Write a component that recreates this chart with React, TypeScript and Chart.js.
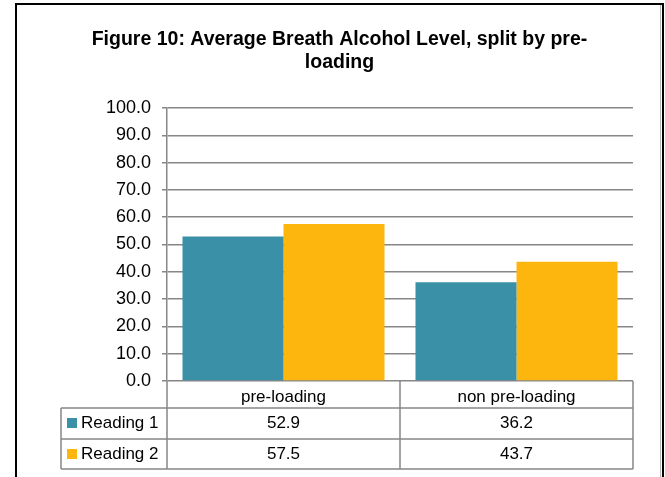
import { useEffect, useRef } from 'react';
import { Chart, registerables } from 'chart.js';

Chart.register(...registerables);

const titleLines = ['Figure 10: Average Breath Alcohol Level, split by pre-', 'loading'];
const categories = ['pre-loading', 'non pre-loading'];
const seriesNames = ['Reading 1', 'Reading 2'];
const reading1 = [52.9, 36.2];
const reading2 = [57.5, 43.7];
const seriesColors = ['#3A90A7', '#FDB60E'];
const yMin = 0;
const yMax = 100;
const yStep = 10;

const FONT = '"Liberation Sans", Arial, sans-serif';
const GRID = '#878787';

const framePlugin = {
  id: 'frameTable',
  beforeDraw(chart: any) {
    const ctx = chart.ctx;
    ctx.save();
    ctx.fillStyle = '#ffffff';
    ctx.fillRect(0, 0, chart.width, chart.height);
    ctx.restore();
  },
  afterDraw(chart: any) {
    const ctx = chart.ctx;
    const area = chart.chartArea;
    const xs = chart.scales.x;
    ctx.save();

    // outer frame
    ctx.fillStyle = '#000000';
    ctx.fillRect(15, 3, 649, 2);
    ctx.fillRect(15, 3, 2, chart.height);
    ctx.fillRect(662, 3, 2, chart.height);
    ctx.fillStyle = '#b5b5b5';
    ctx.fillRect(660, 5, 1, chart.height);

    // title
    ctx.fillStyle = '#000000';
    ctx.font = `bold 19.5px ${FONT}`;
    ctx.textAlign = 'center';
    ctx.textBaseline = 'alphabetic';
    titleLines.forEach((line, i) => ctx.fillText(line, 339.5, 45 + i * 23));

    // data table
    const n = categories.length;
    const centers = categories.map((_, i) => xs.getPixelForValue(i));
    const bounds: number[] = [area.left];
    for (let i = 1; i < n; i++) bounds.push((centers[i - 1] + centers[i]) / 2);
    bounds.push(area.right);

    const tableLeft = 61;
    const headerTop = area.bottom;
    const rowTops = [headerTop + 27, headerTop + 58];
    const tableBottom = headerTop + 88;

    ctx.strokeStyle = GRID;
    ctx.lineWidth = 1.5;
    ctx.beginPath();
    rowTops.concat([tableBottom]).forEach((y) => {
      ctx.moveTo(tableLeft, y);
      ctx.lineTo(area.right, y);
    });
    ctx.moveTo(tableLeft, rowTops[0]);
    ctx.lineTo(tableLeft, tableBottom);
    bounds.forEach((x) => {
      ctx.moveTo(x, headerTop);
      ctx.lineTo(x, tableBottom);
    });
    ctx.stroke();

    ctx.font = `17px ${FONT}`;
    ctx.fillStyle = '#000000';
    ctx.textAlign = 'center';
    categories.forEach((c, i) => ctx.fillText(c, centers[i], headerTop + 21));

    const rows = [reading1, reading2];
    rows.forEach((vals, r) => {
      const top = rowTops[r];
      const baseY = top + 20;
      ctx.fillStyle = seriesColors[r];
      ctx.fillRect(67, top + 10, 10, 10);
      ctx.fillStyle = '#000000';
      ctx.textAlign = 'left';
      ctx.fillText(seriesNames[r], 81, baseY);
      ctx.textAlign = 'center';
      vals.forEach((v, i) => ctx.fillText(v.toFixed(1), centers[i], baseY));
    });

    ctx.restore();
  },
};

export default function App() {
  const ref = useRef<HTMLCanvasElement>(null);
  useEffect(() => {
    if (!ref.current) return;
    const chart = new Chart(ref.current, {
      type: 'bar',
      data: {
        labels: categories,
        datasets: [
          { label: seriesNames[0], data: reading1, backgroundColor: seriesColors[0], borderWidth: 0 },
          { label: seriesNames[1], data: reading2, backgroundColor: seriesColors[1], borderWidth: 0 },
        ],
      },
      options: {
        responsive: false,
        animation: false,
        devicePixelRatio: 1,
        layout: { padding: { left: 0, right: 32, top: 108, bottom: 96 } },
        plugins: { legend: { display: false }, tooltip: { enabled: false }, title: { display: false } },
        datasets: { bar: { categoryPercentage: 0.867, barPercentage: 1.0 } },
        scales: {
          x: { display: false },
          y: {
            min: yMin,
            max: yMax,
            afterFit: (scale: any) => {
              scale.width = 167;
            },
            ticks: {
              stepSize: yStep,
              callback: (v: any) => Number(v).toFixed(1),
              font: { family: FONT, size: 18 },
              color: '#000000',
              padding: 11,
            },
            grid: { color: GRID, lineWidth: 1.5, tickLength: 5, drawTicks: true },
            border: { color: GRID, width: 1.5 },
          },
        },
      },
      plugins: [framePlugin],
    });
    return () => chart.destroy();
  }, []);
  return (
    <div style={{ position: 'fixed', left: 0, top: 0, width: 665, height: 477 }}>
      <canvas ref={ref} width={665} height={477} style={{ display: 'block' }} />
    </div>
  );
}
